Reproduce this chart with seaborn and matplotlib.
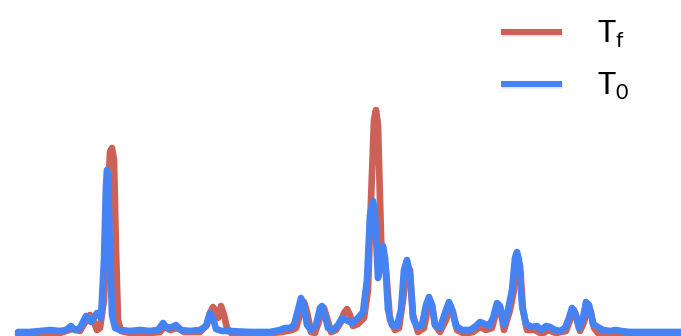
import matplotlib
matplotlib.use("Agg")
import matplotlib.pyplot as plt
import matplotlib.patheffects as pe
import seaborn as sns
import pandas as pd

# ---- data (x position, intensity) ----
series_names = ["T$_\\mathregular{f}$", "T$_\\mathregular{0}$"]

x_f = [18, 40, 60, 72, 80, 84, 90, 94, 97, 100, 104, 107, 110, 112, 114, 116, 118, 121,
       130, 150, 160, 165, 170, 178, 184, 200, 207, 210, 213, 216, 218, 221, 224, 227, 231,
       260, 282, 292, 296, 301, 304, 307, 311, 315, 320, 324, 327, 331, 336, 341, 344, 347,
       350, 353, 358, 364, 368, 371, 374, 376, 378, 380, 382, 384, 386, 390, 395, 399, 403,
       407, 410, 413, 418, 424, 429, 432, 435, 440, 446, 450, 453, 457, 465, 473, 480, 486,
       492, 497, 500, 504, 510, 514, 517, 520, 523, 527, 535, 542, 548, 556, 566, 570, 574,
       577, 580, 584, 588, 591, 594, 598, 610, 681]
y_f = [2, 3, 3, 7, 5, 12, 21, 14, 6, 8, 36, 116, 184, 188, 176, 86, 16, 5,
       3, 3, 4, 10, 6, 8, 4, 4, 11, 23, 29, 24, 18, 30, 21, 8, 3,
       2, 4, 6, 8, 24, 34, 24, 4, 3, 18, 28, 18, 4, 6, 14, 23, 27,
       21, 10, 12, 18, 46, 136, 216, 226, 211, 136, 66, 81, 66, 16, 6, 8, 36,
       71, 66, 21, 4, 8, 34, 31, 11, 4, 16, 31, 24, 6, 2, 4, 9, 6,
       8, 28, 28, 6, 26, 46, 76, 71, 26, 6, 6, 2, 6, 3, 5, 16, 26,
       18, 5, 14, 30, 24, 8, 3, 2, 2]

x_0 = [18, 30, 40, 50, 60, 66, 71, 75, 80, 86, 91, 97, 101, 104, 106, 107, 108, 110, 112,
       115, 120, 130, 140, 150, 158, 163, 167, 172, 176, 181, 190, 200, 206, 210, 213, 216,
       222, 230, 250, 270, 280, 285, 290, 294, 298, 301, 304, 307, 311, 316, 320, 322, 325,
       328, 333, 338, 342, 346, 352, 358, 363, 367, 370, 373, 375, 378, 380, 383, 385, 388,
       392, 397, 401, 404, 407, 410, 413, 417, 422, 426, 429, 432, 435, 440, 446, 449, 452,
       456, 462, 470, 476, 480, 485, 489, 493, 497, 500, 504, 508, 512, 515, 517, 519, 522,
       526, 532, 537, 541, 546, 550, 555, 560, 565, 569, 572, 575, 579, 583, 586, 589, 593,
       598, 603, 610, 616, 621, 630, 681]
y_0 = [4, 4, 5, 6, 5, 6, 10, 6, 8, 20, 14, 23, 18, 76, 151, 166, 161, 86, 21,
       8, 6, 5, 6, 5, 6, 13, 8, 9, 11, 6, 5, 6, 10, 23, 18, 7,
       5, 5, 4, 4, 6, 8, 8, 11, 26, 38, 31, 11, 6, 11, 28, 30, 21,
       8, 6, 11, 18, 16, 13, 18, 24, 56, 121, 135, 121, 58, 71, 90, 78, 26,
       11, 10, 26, 66, 76, 61, 18, 9, 11, 31, 39, 31, 11, 8, 26, 34, 26,
       10, 6, 6, 10, 14, 12, 10, 18, 33, 30, 11, 26, 46, 78, 84, 76, 31,
       12, 9, 10, 6, 10, 9, 6, 5, 8, 18, 28, 23, 8, 18, 34, 31, 12,
       9, 6, 5, 6, 5, 4, 4]

colors = ["#cc6257", "#4583f5"]

df = pd.concat([
    pd.DataFrame({"x": x_f, "y": y_f, "series": series_names[0]}),
    pd.DataFrame({"x": x_0, "y": y_0, "series": series_names[1]}),
])

plt.rcParams["font.family"] = ["Lato", "DejaVu Sans"]
plt.rcParams["mathtext.fontset"] = "custom"
plt.rcParams["mathtext.rm"] = "Lato"

fig = plt.figure(figsize=(6.81, 3.36), dpi=100)
ax = fig.add_axes([0, 0, 1, 1])
sns.lineplot(data=df, x="x", y="y", hue="series", hue_order=series_names,
             palette=colors, sort=False, estimator=None, linewidth=4.8,
             solid_capstyle="round", solid_joinstyle="round", ax=ax)
ax.set_xlim(0, 681)
ax.set_ylim(0, 336)
ax.axis("off")

leg = ax.legend(loc="upper left", bbox_to_anchor=(501 / 681, 1 - 19 / 336),
                frameon=False, fontsize=22, handlelength=2.0, handletextpad=1.15,
                labelspacing=0.68, borderpad=0, borderaxespad=0)
for line in leg.get_lines():
    line.set_linewidth(4.4)
    line.set_solid_capstyle("butt")
    line.set_path_effects([pe.SimpleLineShadow(offset=(0.5, -1.5), alpha=0.08), pe.Normal()])

fig.savefig("out.png", dpi=100)
